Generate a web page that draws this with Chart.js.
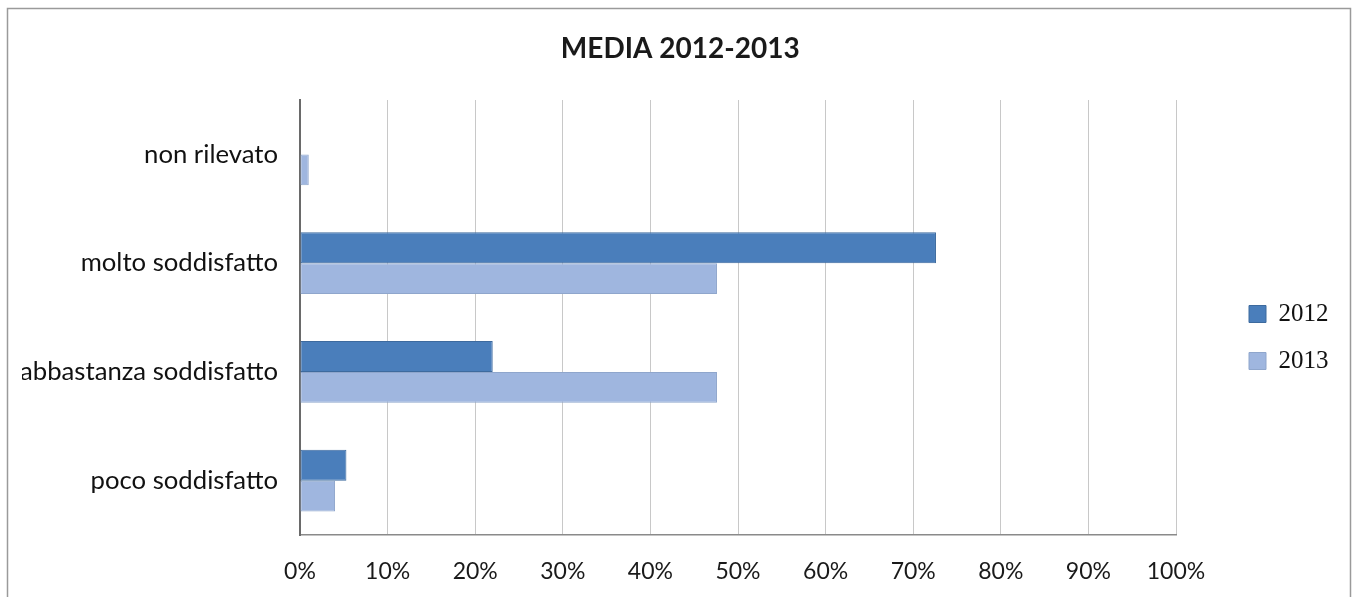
<!DOCTYPE html>
<html>
<head>
<meta charset="utf-8">
<script src="https://cdn.jsdelivr.net/npm/chart.js@4/dist/chart.umd.min.js"></script>
<style>
  html, body { margin: 0; padding: 0; background: #ffffff; }
  #wrap { width: 1359px; height: 597px; position: relative; }
</style>
</head>
<body>
<div id="wrap"><canvas id="c" width="1359" height="597"></canvas></div>
<script>
const categories = ["non rilevato", "molto soddisfatto", "abbastanza soddisfatto", "poco soddisfatto"];
const values2012 = [0, 72.6, 22.0, 5.3];
const values2013 = [1.0, 47.6, 47.6, 4.0];
const seriesNames = ["2012", "2013"];
const xTicks = [0, 10, 20, 30, 40, 50, 60, 70, 80, 90, 100];
const chartTitle = "MEDIA 2012-2013";

const framePlugin = {
  id: 'frame',
  beforeDraw(chart) {
    const ctx = chart.ctx;
    ctx.save();
    ctx.fillStyle = '#ffffff';
    ctx.fillRect(0, 0, chart.width, chart.height);
    ctx.strokeStyle = '#9a9a9a';
    ctx.lineWidth = 1.5;
    ctx.beginPath();
    ctx.moveTo(7.5, chart.height + 2);
    ctx.lineTo(7.5, 8.5);
    ctx.lineTo(1350.5, 8.5);
    ctx.lineTo(1350.5, chart.height + 2);
    ctx.stroke();
    ctx.restore();
  }
};

new Chart(document.getElementById('c'), {
  type: 'bar',
  data: {
    labels: categories,
    datasets: [
      { label: seriesNames[0], data: values2012, backgroundColor: '#4a7ebb', borderColor: '#3d6a9e', borderWidth: 1, borderSkipped: false },
      { label: seriesNames[1], data: values2013, backgroundColor: '#9fb6df', borderColor: '#8fa6cc', borderWidth: 1, borderSkipped: false }
    ]
  },
  options: {
    indexAxis: 'y',
    responsive: false,
    animation: false,
    layout: { padding: { left: 22, right: 20.5, top: 0, bottom: 0 } },
    datasets: { bar: { categoryPercentage: 0.57, barPercentage: 1.0 } },
    scales: {
      x: {
        min: 0, max: 100,
        afterBuildTicks(scale) { scale.ticks = xTicks.map(v => ({ value: v })); },
        afterFit(scale) { scale.height = 62; },
        ticks: {
          callback: (v) => v + '%',
          color: '#1a1a1a',
          font: { family: 'Lato', size: 23 },
          padding: 23,
          maxRotation: 0
        },
        grid: { color: '#c8c8c8', lineWidth: 1, drawTicks: false },
        border: { display: true, color: '#8a8a8a', width: 1.5 }
      },
      y: {
        afterFit(scale) { scale.width = 278; },
        ticks: {
          color: '#111111',
          font: { family: 'Lato', size: 25.7 },
          padding: 22
        },
        grid: { display: false, drawTicks: false },
        border: { display: true, color: '#6a6a6a', width: 2 }
      },
      gap: {
        type: 'linear',
        axis: 'y',
        position: 'right',
        display: true,
        afterFit(scale) { scale.width = 51; },
        ticks: { display: false },
        grid: { display: false, drawTicks: false },
        border: { display: false }
      }
    },
    plugins: {
      title: {
        display: true,
        text: chartTitle,
        color: '#1a1a1a',
        font: { family: 'Lato', size: 28, weight: 'bold' },
        padding: { top: 32, bottom: 34.4 }
      },
      legend: {
        display: true,
        position: 'right',
        align: 'center',
        title: { display: true, text: ' ', font: { size: 10 }, padding: 33 },
        labels: {
          boxWidth: 17,
          boxHeight: 17,
          padding: 22,
          color: '#111111',
          font: { family: 'Liberation Serif', size: 25 }
        }
      },
      tooltip: { enabled: false }
    }
  },
  plugins: [framePlugin]
});
</script>
</body>
</html>
